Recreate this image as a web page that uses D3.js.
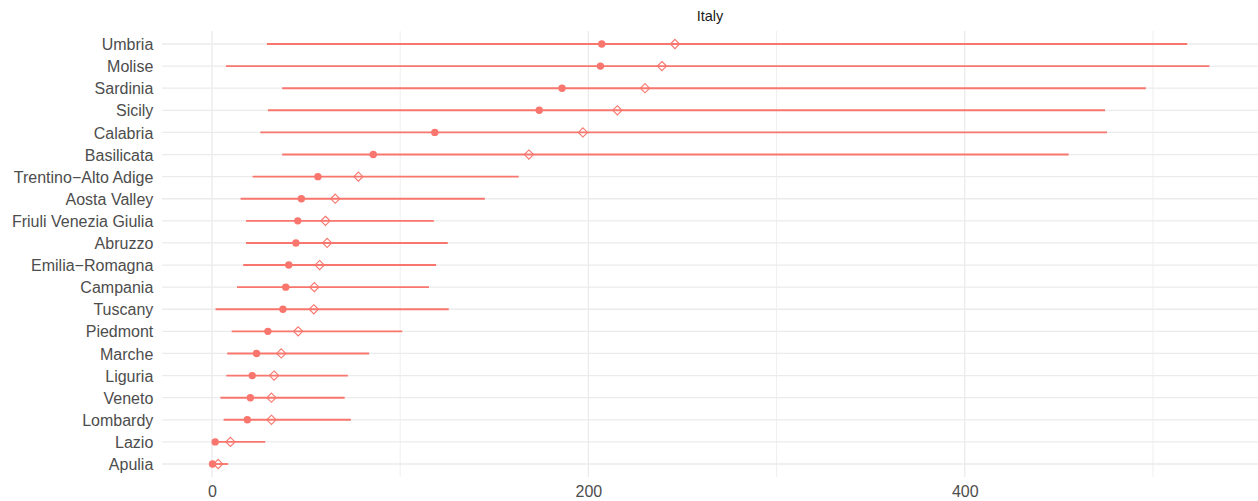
<!DOCTYPE html>
<html><head><meta charset="utf-8">
<script src="https://cdn.jsdelivr.net/npm/d3@7"></script>
<style>body{margin:0;background:#fff;} svg{display:block;font-family:"Liberation Sans",Arial,sans-serif;}</style>
</head><body>
<div id="chart"></div>
<script>
const regions = ["Umbria","Molise","Sardinia","Sicily","Calabria","Basilicata","Trentino−Alto Adige","Aosta Valley","Friuli Venezia Giulia","Abruzzo","Emilia−Romagna","Campania","Tuscany","Piedmont","Marche","Liguria","Veneto","Lombardy","Lazio","Apulia"];
const lowValues  = [29.2, 7.4, 37.3, 29.7, 25.7, 37.3, 21.6, 15.2, 18.1, 18.1, 16.6, 13.3, 1.9, 10.5, 8.1, 7.6, 4.5, 6.2, 0.3, 0];
const highValues = [518.2, 530, 496.2, 474.5, 475.6, 455.2, 163, 145, 117.9, 125.3, 119.1, 115.3, 125.8, 101.1, 83.5, 72.2, 70.5, 73.8, 28.3, 8.6];
const medianValues = [207.1, 206.4, 186, 173.9, 118.4, 85.7, 56.3, 47.5, 45.6, 44.6, 40.8, 39.2, 37.7, 29.7, 23.7, 21.4, 20.4, 18.8, 1.7, 0.3];
const meanValues = [246, 239.1, 230.1, 215.4, 197.1, 168.4, 77.8, 65.5, 60.3, 61.2, 57.2, 54.4, 54.1, 45.8, 36.8, 33, 31.6, 31.6, 9.8, 3.3];
const majorTicks = [0, 200, 400];
const minorTicks = [100, 300, 500];
const panelTitle = "Italy";

(function () {
const W = 1258, H = 501;
const color = "#F8766D";
const svg = d3.select("#chart").append("svg").attr("width", W).attr("height", H);

const x = d3.scaleLinear().domain([-26.5, 556.5]).range([162.1, 1259.3]);
const y = d3.scalePoint().domain(regions).range([44, 464]);
const pTop = 31, pBottom = 477, pLeft = 162, pRight = 1258;

const g = svg.append("g");
g.selectAll(".minor").data(minorTicks).join("line")
  .attr("x1", d => x(d)).attr("x2", d => x(d)).attr("y1", pTop).attr("y2", pBottom)
  .attr("stroke", "#ebebeb").attr("stroke-width", 0.8);
g.selectAll(".major").data(majorTicks).join("line")
  .attr("x1", d => x(d)).attr("x2", d => x(d)).attr("y1", pTop).attr("y2", pBottom)
  .attr("stroke", "#ebebeb").attr("stroke-width", 1.3);
g.selectAll(".hgrid").data(regions).join("line")
  .attr("x1", pLeft).attr("x2", pRight).attr("y1", d => y(d)).attr("y2", d => y(d))
  .attr("stroke", "#ebebeb").attr("stroke-width", 1.3);

const data = regions.map((r, i) => ({r, lo: lowValues[i], hi: highValues[i], med: medianValues[i], mean: meanValues[i]}));

g.selectAll(".seg").data(data).join("line")
  .attr("x1", d => x(d.lo)).attr("x2", d => x(d.hi)).attr("y1", d => y(d.r)).attr("y2", d => y(d.r))
  .attr("stroke", color).attr("stroke-width", 1.9);
g.selectAll(".med").data(data).join("circle")
  .attr("cx", d => x(d.med)).attr("cy", d => y(d.r)).attr("r", 3.7).attr("fill", color);
const ds = 4.6;
g.selectAll(".mean").data(data).join("path")
  .attr("d", d => { const cx = x(d.mean), cy = y(d.r); return `M${cx},${cy-ds}L${cx+ds},${cy}L${cx},${cy+ds}L${cx-ds},${cy}Z`; })
  .attr("fill", "none").attr("stroke", color).attr("stroke-width", 1.1);

const yAxis = d3.axisLeft(y).tickSize(0).tickPadding(0);
const ya = svg.append("g").attr("transform", `translate(153.3,0)`).call(yAxis);
ya.select(".domain").remove();
ya.selectAll("text").attr("fill", "#4d4d4d").attr("font-size", "16px").attr("font-family", "'Liberation Sans', Arial, sans-serif").attr("dy", "0.35em");

const xAxis = d3.axisBottom(x).tickValues(majorTicks).tickSize(0).tickPadding(0).tickFormat(d3.format("d"));
const xa = svg.append("g").attr("transform", `translate(0,${pBottom + 9})`).call(xAxis);
xa.select(".domain").remove();
xa.selectAll("text").attr("fill", "#4d4d4d").attr("font-size", "16px").attr("font-family", "'Liberation Sans', Arial, sans-serif").attr("dy", "0.71em");

svg.append("text").attr("x", (pLeft + pRight) / 2).attr("y", 20.5).attr("text-anchor", "middle")
  .attr("font-size", "14.5px").attr("fill", "#1a1a1a").text(panelTitle);
})();
</script>
</body></html>
